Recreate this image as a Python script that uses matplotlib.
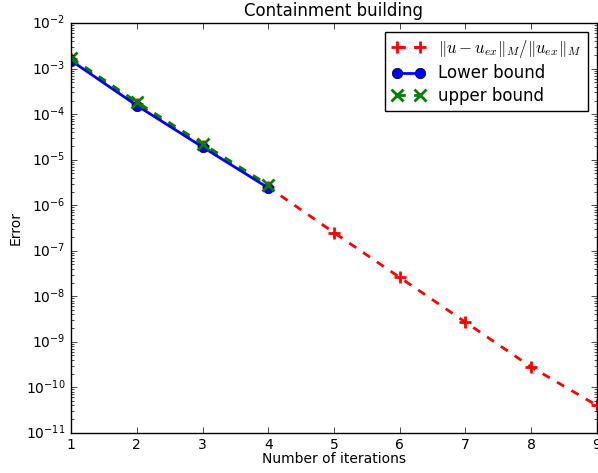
import numpy as np
import matplotlib
matplotlib.use('Agg')
import matplotlib.pyplot as plt

plt.style.use('classic')

# iterations and errors
iters = [1, 2, 3, 4, 5, 6, 7, 8, 9]
rel_err = [1.6e-3, 1.7e-4, 2.0e-5, 2.5e-6, 2.5e-7, 2.6e-8, 2.7e-9, 2.8e-10, 4.0e-11]
it_bounds = [1, 2, 3, 4]
lower = [1.5e-3, 1.55e-4, 1.9e-5, 2.4e-6]
upper = [1.75e-3, 1.85e-4, 2.25e-5, 2.8e-6]

fig = plt.figure(figsize=(5.98, 4.73), dpi=100)
ax = fig.add_axes([0.119, 0.085, 0.879, 0.866])

ax.semilogy(iters, rel_err, 'r+--', lw=2, ms=9, mew=2,
            label=r'$\|u-u_{ex}\|_M/\|u_{ex}\|_M$')
ax.semilogy(it_bounds, lower, 'bo-', lw=2, ms=7.5, label='Lower bound')
ax.semilogy(it_bounds, upper, 'gx--', lw=2, ms=9, mew=2, label='upper bound')

ax.set_xlim(1, 9)
ax.set_ylim(1e-11, 1e-2)
ax.set_title('Containment building', fontsize=12)
ax.set_xlabel('Number of iterations', fontsize=10)
ax.set_ylabel('Error', fontsize=10)
ax.xaxis.set_label_coords(0.5, -0.048)
ax.yaxis.set_label_coords(-0.093, 0.5)
ax.tick_params(labelsize=10)
ax.legend(loc='upper right', numpoints=2, fontsize=12, labelspacing=0.25)

fig.savefig('out.png', dpi=100)
